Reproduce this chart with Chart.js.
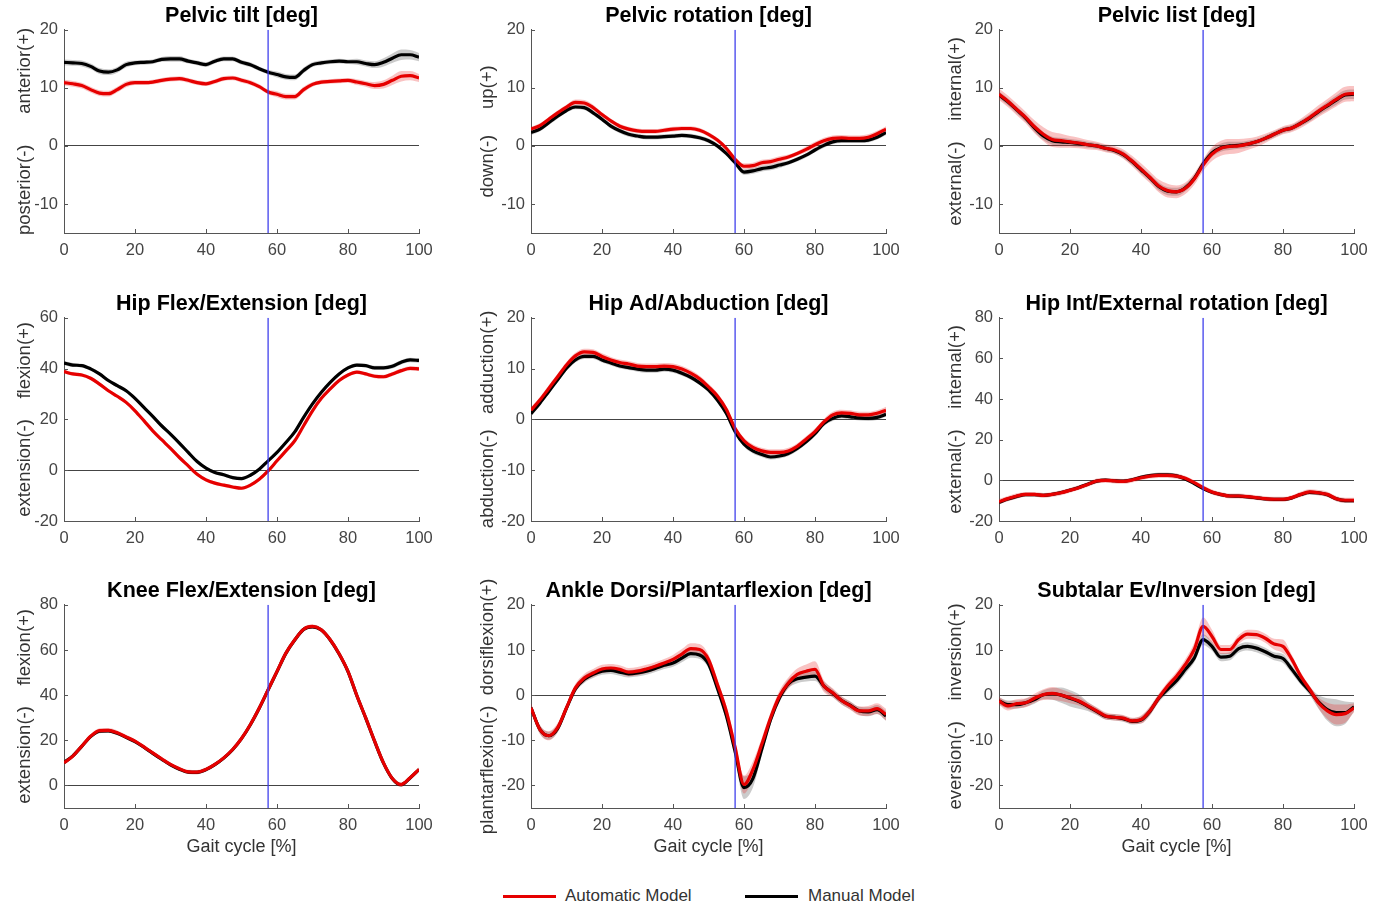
<!DOCTYPE html>
<html>
<head>
<meta charset="utf-8">
<script src="https://cdn.jsdelivr.net/npm/chart.js@4.4.1/dist/chart.umd.min.js"></script>
<style>
  body { margin: 0; background: #fff; width: 1373px; height: 914px; position: relative; overflow: hidden;
         font-family: "Liberation Sans", Arial, sans-serif; }
  canvas.panel { position: absolute; }
  .legline { position: absolute; height: 3px; top: 895px; width: 53px; }
  .legtext { position: absolute; top: 886px; font-size: 17px; color: #333; line-height: 20px; }
</style>
</head>
<body>
<div class="legline" style="left:503px;background:#e60000"></div>
<div class="legtext" style="left:565px">Automatic Model</div>
<div class="legline" style="left:745px;background:#000"></div>
<div class="legtext" style="left:808px">Manual Model</div>
<script>
// gait cycle samples (%)
const gaitCycle = [0,2.5,5,7.5,10,12.5,15,17.5,20,22.5,25,27.5,30,32.5,35,37.5,40,42.5,45,47.5,50,52.5,55,57.5,60,62.5,65,67.5,70,72.5,75,77.5,80,82.5,85,87.5,90,92.5,95,97.5,100];
const xTicks = [0,20,40,60,80,100];
const toeOff = 57.5;
const seriesNames = ['Automatic Model', 'Manual Model'];

// Pelvic tilt
const tiltAuto = [10.9,10.7,10.4,9.7,9.1,9.0,9.7,10.6,10.9,10.9,11.0,11.3,11.5,11.6,11.3,10.9,10.7,11.1,11.6,11.7,11.3,10.9,10.2,9.3,8.9,8.5,8.5,9.7,10.6,11.0,11.1,11.2,11.3,11.0,10.7,10.4,10.6,11.3,12.0,12.1,11.7];
const tiltMan = [14.4,14.3,14.2,13.7,12.9,12.7,13.1,14.0,14.3,14.4,14.5,14.9,15.0,15.0,14.6,14.3,14.0,14.6,15.0,15.0,14.4,14.0,13.3,12.7,12.3,11.9,11.8,13.0,14.0,14.3,14.5,14.6,14.5,14.5,14.2,14.0,14.4,15.1,15.7,15.7,15.3];
const tiltAutoSd = [0.5,0.5,0.5,0.5,0.5,0.5,0.5,0.5,0.4,0.4,0.4,0.4,0.4,0.4,0.4,0.4,0.4,0.4,0.4,0.4,0.4,0.4,0.4,0.4,0.5,0.5,0.5,0.5,0.4,0.4,0.4,0.4,0.4,0.5,0.5,0.6,0.7,0.8,0.9,0.8,0.7];
const tiltManSd = [0.5,0.5,0.5,0.5,0.5,0.5,0.5,0.5,0.4,0.4,0.4,0.4,0.5,0.5,0.4,0.4,0.4,0.4,0.4,0.4,0.4,0.4,0.4,0.4,0.5,0.5,0.5,0.5,0.4,0.4,0.4,0.4,0.4,0.5,0.5,0.6,0.7,0.8,0.9,0.8,0.7];
const tiltTicks = [-10,0,10,20];

// Pelvic rotation
const rotAuto = [2.9,3.5,4.6,5.7,6.7,7.5,7.4,6.6,5.4,4.3,3.4,2.9,2.6,2.5,2.5,2.7,2.9,3.0,3.0,2.7,2.0,1.0,-0.4,-2.3,-3.5,-3.4,-2.9,-2.7,-2.3,-1.9,-1.3,-0.6,0.2,0.9,1.3,1.4,1.3,1.3,1.5,2.1,2.9];
const rotMan = [2.3,2.9,4.0,5.1,6.1,6.7,6.6,5.7,4.6,3.4,2.6,2.0,1.7,1.5,1.5,1.6,1.7,1.8,1.7,1.4,0.9,0.0,-1.3,-2.9,-4.5,-4.3,-3.9,-3.7,-3.3,-2.9,-2.3,-1.6,-0.7,0.1,0.7,0.9,0.9,0.9,1.0,1.5,2.3];
const rotAutoSd = [0.4,0.4,0.4,0.4,0.4,0.5,0.5,0.5,0.4,0.4,0.4,0.4,0.4,0.4,0.4,0.4,0.4,0.4,0.4,0.4,0.4,0.4,0.4,0.4,0.5,0.5,0.5,0.5,0.5,0.4,0.4,0.5,0.5,0.5,0.5,0.5,0.5,0.5,0.5,0.5,0.5];
const rotManSd = [0.4,0.4,0.4,0.4,0.4,0.4,0.4,0.4,0.4,0.4,0.4,0.4,0.4,0.4,0.4,0.4,0.4,0.4,0.4,0.4,0.4,0.4,0.4,0.4,0.5,0.5,0.5,0.5,0.5,0.4,0.4,0.4,0.4,0.4,0.4,0.4,0.4,0.4,0.4,0.4,0.4];
const rotTicks = [-10,0,10,20];

// Pelvic list
const listAuto = [8.9,7.7,6.3,4.9,3.3,2.0,1.1,0.9,0.7,0.5,0.2,0.0,-0.4,-0.7,-1.4,-2.6,-4.0,-5.4,-6.9,-7.7,-7.9,-7.3,-5.7,-3.3,-1.4,-0.4,-0.1,0.0,0.3,0.7,1.3,2.0,2.7,3.1,3.9,4.9,6.0,7.0,8.0,8.9,9.0];
const listMan = [8.8,7.6,6.2,4.8,3.1,1.7,0.9,0.7,0.6,0.4,0.2,0.0,-0.4,-0.8,-1.5,-2.7,-4.1,-5.5,-7.0,-7.8,-7.9,-7.2,-5.6,-3.1,-1.2,-0.3,0.0,0.1,0.3,0.7,1.3,2.0,2.7,3.1,3.9,4.8,5.9,6.9,7.9,8.8,8.9];
const listAutoSd = [1.0,1.0,1.0,1.0,1.1,1.2,1.3,1.2,1.0,0.9,0.8,0.7,0.7,0.7,0.8,0.9,1.0,1.0,1.1,1.2,1.1,1.0,1.0,1.0,1.2,1.3,1.3,1.2,1.0,0.9,0.8,0.7,0.7,0.7,0.8,0.9,1.0,1.1,1.2,1.3,1.3];
const listManSd = [0.6,0.6,0.6,0.6,0.7,0.7,0.7,0.7,0.6,0.6,0.5,0.5,0.5,0.5,0.6,0.6,0.6,0.6,0.7,0.7,0.7,0.6,0.6,0.6,0.7,0.7,0.7,0.6,0.6,0.5,0.5,0.5,0.5,0.5,0.5,0.6,0.6,0.7,0.8,0.8,0.8];
const listTicks = [-10,0,10,20];

// Hip flexion / extension
const flexAuto = [38.8,37.9,37.5,36.2,33.9,31.3,29.1,26.7,23.4,19.5,15.5,12.0,8.6,5.0,1.7,-1.6,-3.8,-5.1,-5.9,-6.6,-7.1,-5.9,-3.6,-0.3,3.7,7.6,11.6,17.5,23.4,28.3,32.0,35.3,37.5,38.6,37.9,37.0,36.8,37.9,39.2,40.1,39.9];
const flexMan = [42.2,41.4,41.2,39.9,37.9,35.3,33.3,31.3,28.3,24.7,21.2,17.5,14.2,10.7,7.0,3.4,0.8,-0.9,-1.8,-2.9,-3.3,-2.0,0.4,3.7,7.0,10.9,15.1,20.8,26.1,30.7,34.6,37.9,40.3,41.4,41.2,40.3,40.3,40.9,42.5,43.4,43.2];
const flexAutoSd = [0.7,0.7,0.7,0.7,0.7,0.7,0.7,0.7,0.7,0.7,0.7,0.7,0.7,0.7,0.7,0.7,0.7,0.7,0.7,0.7,0.7,0.7,0.7,0.7,0.7,0.7,0.7,0.7,0.7,0.7,0.7,0.7,0.7,0.7,0.7,0.8,0.8,0.8,0.8,0.8,0.8];
const flexManSd = [0.8,0.8,0.7,0.7,0.7,0.7,0.7,0.7,0.7,0.7,0.7,0.7,0.7,0.7,0.7,0.7,0.7,0.7,0.7,0.7,0.7,0.7,0.7,0.7,0.7,0.7,0.7,0.7,0.7,0.7,0.7,0.7,0.7,0.7,0.7,0.8,0.8,0.9,0.9,0.9,0.9];
const flexTicks = [-20,0,20,40,60];

// Hip adduction / abduction
const adAuto = [1.8,3.8,6.1,8.4,10.7,12.5,13.3,13.2,12.4,11.7,11.2,10.9,10.5,10.4,10.4,10.5,10.4,9.9,9.1,8.0,6.4,4.6,2.0,-1.8,-4.2,-5.5,-6.2,-6.5,-6.5,-6.2,-5.3,-3.9,-2.4,-0.5,0.9,1.3,1.2,0.9,0.9,1.2,1.8];
const adMan = [1.1,3.2,5.5,7.8,10.1,11.7,12.4,12.4,11.7,11.1,10.5,10.2,9.9,9.7,9.7,9.9,9.7,9.1,8.3,7.2,5.8,3.8,1.2,-2.4,-4.9,-6.2,-6.9,-7.4,-7.2,-6.7,-5.7,-4.4,-2.8,-0.8,0.2,0.7,0.5,0.3,0.2,0.4,1.0];
const adAutoSd = [0.6,0.6,0.6,0.6,0.6,0.6,0.6,0.6,0.6,0.6,0.6,0.6,0.6,0.6,0.6,0.6,0.6,0.6,0.6,0.6,0.6,0.6,0.6,0.6,0.6,0.6,0.6,0.6,0.6,0.6,0.6,0.6,0.6,0.6,0.6,0.6,0.6,0.6,0.6,0.6,0.7];
const adManSd = [0.5,0.5,0.5,0.5,0.5,0.5,0.5,0.5,0.5,0.5,0.5,0.5,0.5,0.5,0.5,0.5,0.5,0.5,0.5,0.5,0.5,0.5,0.5,0.5,0.5,0.5,0.5,0.5,0.5,0.5,0.5,0.5,0.5,0.5,0.5,0.5,0.5,0.5,0.5,0.5,0.5];
const adTicks = [-20,-10,0,10,20];

// Hip internal / external rotation
const intAuto = [-10.5,-9.0,-7.7,-6.9,-6.9,-7.4,-6.9,-6.1,-4.9,-3.6,-2.0,-0.3,0.0,-0.3,-0.5,0.2,1.3,2.1,2.5,2.5,2.1,1.0,-1.1,-3.6,-5.7,-6.9,-7.7,-7.7,-8.0,-8.5,-9.0,-9.3,-9.3,-8.5,-6.9,-5.7,-6.1,-6.9,-9.0,-9.8,-9.8];
const intMan = [-10.8,-9.2,-7.9,-7.0,-7.0,-7.4,-6.9,-6.0,-4.8,-3.5,-1.9,-0.4,0.1,-0.2,-0.4,0.3,1.5,2.3,2.7,2.7,2.2,0.7,-1.6,-4.0,-5.9,-7.0,-7.7,-7.8,-8.1,-8.6,-9.1,-9.4,-9.4,-8.6,-7.0,-5.9,-6.2,-7.1,-9.1,-10.0,-10.0];
const intAutoSd = [1.4,1.3,1.3,1.2,1.2,1.2,1.2,1.2,1.2,1.2,1.2,1.2,1.2,1.2,1.2,1.2,1.2,1.2,1.3,1.3,1.3,1.2,1.2,1.2,1.2,1.2,1.2,1.2,1.2,1.2,1.2,1.2,1.2,1.2,1.3,1.3,1.3,1.3,1.3,1.3,1.3];
const intManSd = [1.0,1.0,1.0,1.0,0.9,0.9,0.9,0.9,0.9,0.9,0.9,0.9,0.9,0.9,0.9,0.9,0.9,0.9,1.0,1.0,1.0,1.0,0.9,0.9,0.9,0.9,0.9,0.9,0.9,0.9,0.9,0.9,0.9,0.9,1.0,1.0,1.0,1.0,1.0,1.0,1.0];
const intTicks = [-20,0,20,40,60,80];

// Knee flexion / extension
const kneeAuto = [10.0,13.0,17.4,21.8,24.3,24.4,23.3,21.5,19.6,17.1,14.4,11.8,9.3,7.4,6.0,5.9,7.1,9.3,12.2,15.9,20.8,27.0,34.3,42.4,50.5,58.6,64.5,69.2,70.4,68.9,64.5,58.3,50.5,39.8,29.9,19.6,10.0,3.1,0.4,3.4,7.1];
const kneeMan = [10.2,13.1,17.3,21.6,24.0,24.2,23.1,21.3,19.4,16.9,14.2,11.6,9.1,7.2,5.9,5.8,7.0,9.2,12.1,15.8,20.7,26.9,34.2,42.3,50.4,58.5,64.4,69.1,70.2,68.8,64.4,58.2,50.4,39.7,29.8,19.5,9.9,3.0,0.3,3.3,7.0];
const kneeAutoSd = [0.9,0.9,0.9,0.9,1.0,1.0,1.0,0.9,0.9,0.9,0.9,0.9,0.9,0.9,0.9,0.9,0.9,0.9,0.9,0.9,0.9,0.9,0.9,0.9,0.9,0.9,0.9,0.9,0.9,0.9,0.9,0.9,0.9,0.9,0.9,0.9,0.9,1.0,1.0,0.9,0.9];
const kneeManSd = [0.8,0.8,0.8,0.8,0.9,0.9,0.9,0.8,0.8,0.8,0.8,0.8,0.8,0.8,0.8,0.8,0.8,0.8,0.8,0.8,0.8,0.8,0.8,0.8,0.8,0.8,0.8,0.8,0.8,0.8,0.8,0.8,0.8,0.8,0.8,0.8,0.8,0.9,0.9,0.8,0.8];
const kneeTicks = [0,20,40,60,80];

// Ankle dorsi / plantarflexion
const ankleAuto = [-2.8,-7.6,-9.0,-7.2,-2.8,1.6,3.8,4.9,5.8,6.0,5.7,5.1,5.3,5.8,6.4,7.1,7.9,9.1,10.3,10.1,7.9,2.4,-3.5,-11.6,-19.8,-16.5,-10.9,-5.0,-0.2,2.7,4.6,5.3,5.7,2.0,0.5,-1.2,-2.4,-3.5,-3.5,-3.0,-4.3];
const ankleMan = [-2.8,-7.6,-9.0,-7.4,-2.9,1.4,3.5,4.6,5.3,5.5,5.1,4.7,4.9,5.3,5.9,6.6,7.1,8.2,9.2,8.9,6.9,1.5,-4.5,-12.5,-20.5,-18.5,-12.0,-5.4,-0.6,2.5,3.6,4.0,4.2,2.0,0.4,-1.2,-2.3,-3.5,-3.7,-3.2,-4.6];
const ankleAutoSd = [1.0,1.0,1.0,1.0,0.9,0.9,0.9,0.9,0.9,0.9,0.9,0.9,0.9,0.9,0.9,0.9,1.0,1.1,1.2,1.2,1.1,1.0,1.2,1.6,2.0,1.8,1.4,1.2,1.2,1.2,1.3,1.5,1.8,1.3,1.0,0.9,0.9,1.0,1.1,1.2,1.3];
const ankleManSd = [0.9,0.9,0.9,0.9,0.8,0.8,0.8,0.8,0.8,0.8,0.8,0.8,0.8,0.8,0.8,0.8,0.8,0.9,0.9,0.9,0.9,0.9,1.1,1.6,2.5,2.0,1.4,1.1,1.0,1.0,1.0,1.0,1.1,1.0,0.9,0.9,0.9,0.9,1.0,1.0,1.1];
const ankleTicks = [-20,-10,0,10,20];

// Subtalar eversion / inversion
const subAuto = [-1.3,-2.4,-1.9,-1.7,-0.7,0.1,0.4,0.0,-0.6,-1.3,-2.4,-3.5,-4.6,-4.9,-5.1,-5.7,-5.4,-3.5,-0.6,2.0,4.2,6.8,10.1,15.2,13.0,10.1,10.1,12.3,13.5,13.4,12.6,11.3,10.8,7.9,4.2,1.3,-1.7,-3.5,-4.3,-4.1,-2.8];
const subMan = [-1.3,-2.1,-2.1,-1.7,-1.0,0.1,0.3,0.0,-0.7,-1.4,-2.5,-3.6,-4.7,-4.9,-5.2,-5.8,-5.5,-3.6,-0.7,1.3,3.2,5.7,8.2,12.3,10.8,8.4,8.6,10.3,10.8,10.4,9.6,8.6,8.1,5.7,3.1,0.9,-1.5,-3.2,-3.9,-3.9,-2.6];
const subAutoSd = [0.9,1.0,1.0,1.0,1.0,1.2,1.4,1.3,1.2,1.0,0.8,0.8,0.8,0.7,0.7,0.7,0.9,1.0,0.9,0.9,1.0,1.2,1.5,2.0,1.5,1.0,1.0,1.0,1.0,1.0,1.0,1.2,1.5,1.0,0.8,0.8,1.2,1.8,2.2,2.0,1.0];
const subManSd = [0.8,0.9,0.9,0.9,0.9,1.0,1.3,1.7,1.8,1.6,1.0,0.8,0.7,0.7,0.7,0.7,0.8,0.9,0.9,0.9,0.9,1.0,1.0,1.2,1.0,0.9,0.9,0.9,0.9,0.9,0.9,0.9,1.0,0.9,0.8,0.9,1.5,2.5,3.0,2.5,1.0];
const subTicks = [-20,-10,0,10,20];

const panels = [
  { title: 'Pelvic tilt [deg]', label: 'posterior(-)      anterior(+)', yRange: [-15, 20], ticks: tiltTicks, auto: tiltAuto, man: tiltMan, autoSd: tiltAutoSd, manSd: tiltManSd },
  { title: 'Pelvic rotation [deg]', label: 'down(-)     up(+)', yRange: [-15, 20], ticks: rotTicks, auto: rotAuto, man: rotMan, autoSd: rotAutoSd, manSd: rotManSd },
  { title: 'Pelvic list [deg]', label: 'external(-)    internal(+)', yRange: [-15, 20], ticks: listTicks, auto: listAuto, man: listMan, autoSd: listAutoSd, manSd: listManSd },
  { title: 'Hip Flex/Extension [deg]', label: 'extension(-)    flexion(+)', yRange: [-20, 60], ticks: flexTicks, auto: flexAuto, man: flexMan, autoSd: flexAutoSd, manSd: flexManSd },
  { title: 'Hip Ad/Abduction [deg]', label: 'abduction(-)   adduction(+)', yRange: [-20, 20], ticks: adTicks, auto: adAuto, man: adMan, autoSd: adAutoSd, manSd: adManSd },
  { title: 'Hip Int/External rotation [deg]', label: 'external(-)    internal(+)', yRange: [-20, 80], ticks: intTicks, auto: intAuto, man: intMan, autoSd: intAutoSd, manSd: intManSd },
  { title: 'Knee Flex/Extension [deg]', label: 'extension(-)    flexion(+)', yRange: [-10, 80], ticks: kneeTicks, auto: kneeAuto, man: kneeMan, autoSd: kneeAutoSd, manSd: kneeManSd },
  { title: 'Ankle Dorsi/Plantarflexion [deg]', label: 'plantarflexion(-)  dorsiflexion(+)', yRange: [-25, 20], ticks: ankleTicks, auto: ankleAuto, man: ankleMan, autoSd: ankleAutoSd, manSd: ankleManSd },
  { title: 'Subtalar Ev/Inversion [deg]', label: 'eversion(-)    inversion(+)', yRange: [-25, 20], ticks: subTicks, auto: subAuto, man: subMan, autoSd: subAutoSd, manSd: subManSd }
];

const FONT = "'Liberation Sans', Arial, sans-serif";
Chart.defaults.font.family = FONT;

const colLeft = [64, 531, 999];
const rowTop = [30, 318, 605];
const plotW = 355, plotH = 203, yAxisW = 64, titleH = 31;
const labelX = [25, 21, 21];

// MATLAB style ticks pointing into the axes
const inwardTicks = {
  id: 'inwardTicks',
  beforeDatasetsDraw(chart) {
    const { ctx, chartArea: a, scales: { x, y } } = chart;
    ctx.save();
    ctx.strokeStyle = '#555';
    ctx.lineWidth = 1;
    ctx.beginPath();
    x.ticks.forEach(t => {
      const px = Math.round(x.getPixelForValue(t.value)) + 0.5;
      ctx.moveTo(px, a.bottom); ctx.lineTo(px, a.bottom - 4);
    });
    y.ticks.forEach(t => {
      const py = Math.round(y.getPixelForValue(t.value)) + 0.5;
      ctx.moveTo(a.left, py); ctx.lineTo(a.left + 4, py);
    });
    ctx.stroke();
    ctx.restore();
  }
};

// single y label string centred on the axis, not squeezed to axis height
const sideLabel = {
  id: 'sideLabel',
  afterDraw(chart, args, opts) {
    const { ctx, chartArea: a } = chart;
    ctx.save();
    ctx.translate(opts.x, (a.top + a.bottom) / 2);
    ctx.rotate(-Math.PI / 2);
    ctx.font = '18.5px ' + FONT;
    ctx.fillStyle = '#333';
    ctx.textAlign = 'center';
    ctx.textBaseline = 'middle';
    ctx.fillText(opts.text, 0, 0);
    ctx.restore();
  }
};

const pts = (vals, sd, sign) => gaitCycle.map((x, i) => ({ x: x, y: vals[i] + sign * (sd ? sd[i] : 0) }));

panels.forEach((p, k) => {
  const col = k % 3, row = Math.floor(k / 3);
  const xH = row === 2 ? 55 : 30;
  const cv = document.createElement('canvas');
  cv.className = 'panel';
  cv.width = yAxisW + plotW + 24;
  cv.height = titleH + plotH + xH;
  cv.style.left = (colLeft[col] - yAxisW) + 'px';
  cv.style.top = (rowTop[row] - titleH) + 'px';
  document.body.appendChild(cv);

  const line = { pointRadius: 0, cubicInterpolationMode: 'monotone', fill: false };
  new Chart(cv, {
    type: 'line',
    data: {
      datasets: [
        { ...line, label: 'man-lo', data: pts(p.man, p.manSd, -1), borderWidth: 0, order: 7 },
        { ...line, label: 'man-hi', data: pts(p.man, p.manSd, 1), borderWidth: 0, fill: '-1', backgroundColor: 'rgba(70,70,70,0.28)', order: 6 },
        { ...line, label: 'auto-lo', data: pts(p.auto, p.autoSd, -1), borderWidth: 0, order: 5 },
        { ...line, label: 'auto-hi', data: pts(p.auto, p.autoSd, 1), borderWidth: 0, fill: '-1', backgroundColor: 'rgba(235,40,40,0.28)', order: 4 },
        { ...line, label: seriesNames[1], data: pts(p.man, null, 0), borderColor: '#000', borderWidth: 3.2, order: 3 },
        { ...line, label: seriesNames[0], data: pts(p.auto, null, 0), borderColor: '#e60000', borderWidth: 3.2, order: 2 },
        { label: 'toe-off', data: [{ x: toeOff, y: p.yRange[0] }, { x: toeOff, y: p.yRange[1] }], pointRadius: 0,
          borderColor: 'rgba(60,60,235,0.8)', borderWidth: 1.6, order: 1 }
      ]
    },
    options: {
      responsive: false,
      animation: false,
      devicePixelRatio: 1,
      layout: { padding: { left: 0, right: 24, top: 0, bottom: 0 } },
      plugins: {
        legend: { display: false },
        tooltip: { enabled: false },
        title: { display: true, text: p.title, fullSize: false, color: '#000',
                 font: { size: 21.5, weight: 'bold' }, padding: { top: 4, bottom: 1 } },
        sideLabel: { text: p.label, x: labelX[col] }
      },
      scales: {
        x: {
          type: 'linear', min: 0, max: 100,
          afterBuildTicks: s => { s.ticks = xTicks.map(v => ({ value: v })); },
          afterFit: s => { s.height = xH; },
          grid: { display: false, drawTicks: false },
          border: { display: true, color: '#555', width: 1 },
          ticks: { color: '#444', font: { size: 16.5 }, padding: 8, maxRotation: 0, autoSkip: false },
          title: { display: row === 2, text: 'Gait cycle [%]', color: '#333', font: { size: 18 }, padding: { top: 0, bottom: 5 } }
        },
        y: {
          min: p.yRange[0], max: p.yRange[1],
          afterBuildTicks: s => { s.ticks = p.ticks.map(v => ({ value: v })); },
          afterFit: s => { s.width = yAxisW; },
          grid: { drawTicks: false, lineWidth: 1,
                  color: c => (c.tick && c.tick.value === 0) ? '#444' : 'rgba(0,0,0,0)' },
          border: { display: true, color: '#555', width: 1 },
          ticks: { color: '#444', font: { size: 16.5 }, padding: 6 }
        }
      }
    },
    plugins: [inwardTicks, sideLabel]
  });
});
</script>
</body>
</html>
